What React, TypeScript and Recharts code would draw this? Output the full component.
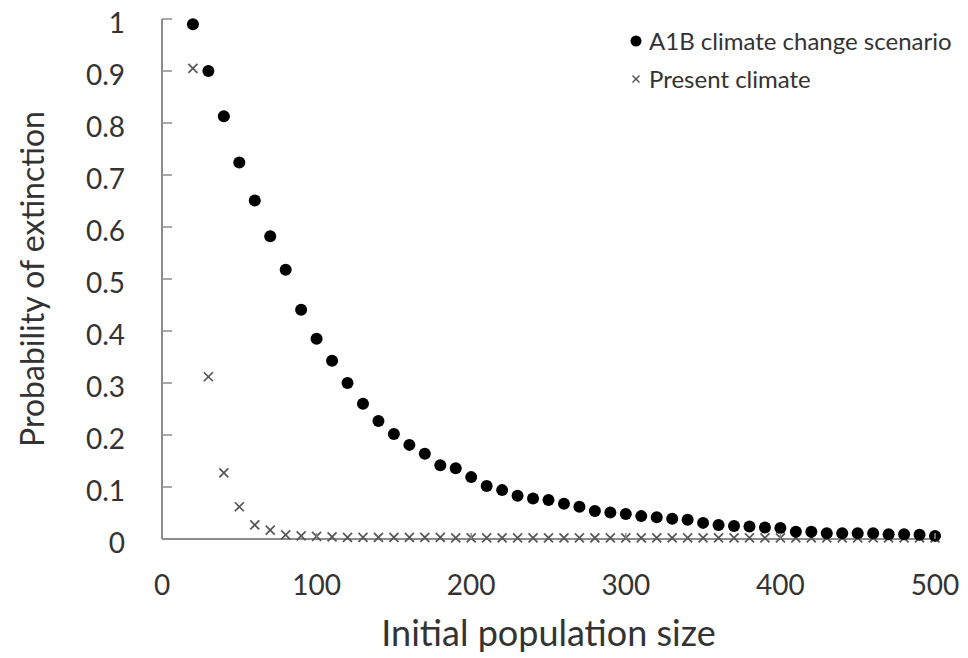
import React from 'react';
import { ScatterChart, Scatter, XAxis, YAxis, Legend, Label } from 'recharts';

const popSizes = [20, 30, 40, 50, 60, 70, 80, 90, 100, 110, 120, 130, 140, 150, 160, 170, 180, 190, 200, 210, 220, 230, 240, 250, 260, 270, 280, 290, 300, 310, 320, 330, 340, 350, 360, 370, 380, 390, 400, 410, 420, 430, 440, 450, 460, 470, 480, 490, 500];

const a1bProb = [0.99, 0.9, 0.813, 0.724, 0.651, 0.582, 0.518, 0.441, 0.385, 0.343, 0.3, 0.26, 0.227, 0.202, 0.181, 0.164, 0.142, 0.136, 0.119, 0.102, 0.094, 0.083, 0.078, 0.075, 0.068, 0.062, 0.054, 0.051, 0.048, 0.044, 0.042, 0.039, 0.037, 0.031, 0.027, 0.025, 0.024, 0.022, 0.021, 0.014, 0.014, 0.011, 0.011, 0.011, 0.011, 0.009, 0.009, 0.008, 0.006];

const presentProb = [0.905, 0.312, 0.127, 0.062, 0.027, 0.017, 0.008, 0.006, 0.005, 0.004, 0.003, 0.003, 0.003, 0.003, 0.003, 0.003, 0.003, 0.002, 0.002, 0.002, 0.002, 0.002, 0.002, 0.002, 0.002, 0.002, 0.002, 0.002, 0.002, 0.002, 0.002, 0.002, 0.002, 0.002, 0.002, 0.002, 0.002, 0.002, 0.002, 0.002, 0.002, 0.002, 0.002, 0.002, 0.002, 0.002, 0.002, 0.002, 0.002];

const xTicks = [0, 100, 200, 300, 400, 500];
const yTicks = [0, 0.1, 0.2, 0.3, 0.4, 0.5, 0.6, 0.7, 0.8, 0.9, 1];
const yTickLabels = ['0', '0.1', '0.2', '0.3', '0.4', '0.5', '0.6', '0.7', '0.8', '0.9', '1'];

const seriesNames = ['A1B climate change scenario', 'Present climate'];

const a1bData = popSizes.map((x, i) => ({ x, y: a1bProb[i] }));
const presentData = popSizes.map((x, i) => ({ x, y: presentProb[i] }));

const FONT = 'Lato, "Open Sans", sans-serif';
const AXIS_COLOR = '#8c8c8c';
const TEXT_COLOR = '#333333';

const XTick = (props: any) => {
  const { x, y, payload } = props;
  return (
    <g>
      {payload.value !== 0 && (
        <line x1={x} x2={x} y1={y} y2={y - 6} stroke={AXIS_COLOR} strokeWidth={1.5} />
      )}
      <text x={x} y={y + 45} textAnchor="middle" dominantBaseline="central" fontFamily={FONT} fontSize={28} fill={TEXT_COLOR}>
        {payload.value}
      </text>
    </g>
  );
};

const YTick = (props: any) => {
  const { x, y, payload } = props;
  const idx = yTicks.indexOf(payload.value);
  return (
    <g>
      <line x1={x} x2={x + 10} y1={y} y2={y} stroke={AXIS_COLOR} strokeWidth={1.5} />
      <text x={x - 37} y={y + 3} textAnchor="end" dominantBaseline="central" fontFamily={FONT} fontSize={28} fill={TEXT_COLOR}>
        {idx >= 0 ? yTickLabels[idx] : payload.value}
      </text>
    </g>
  );
};

const Dot = (props: any) => {
  const { cx, cy } = props;
  return <circle cx={cx} cy={cy} r={6} fill="#000" />;
};

const Cross = (props: any) => {
  const { cx, cy } = props;
  const s = 4.5;
  return (
    <g stroke="#555" strokeWidth={1.7}>
      <line x1={cx - s} y1={cy - s} x2={cx + s} y2={cy + s} />
      <line x1={cx - s} y1={cy + s} x2={cx + s} y2={cy - s} />
    </g>
  );
};

const LegendContent = () => (
  <div style={{ fontFamily: FONT, fontSize: 24, color: TEXT_COLOR, lineHeight: '38px', whiteSpace: 'nowrap' }}>
    <div style={{ display: 'flex', alignItems: 'center', height: 38 }}>
      <svg width={16} height={16} style={{ marginRight: 5 }}>
        <circle cx={8} cy={8} r={5.5} fill="#000" />
      </svg>
      <span>{seriesNames[0]}</span>
    </div>
    <div style={{ display: 'flex', alignItems: 'center', height: 38 }}>
      <svg width={16} height={16} style={{ marginRight: 5 }}>
        <g stroke="#555" strokeWidth={1.5}>
          <line x1={4.5} y1={4.5} x2={11.5} y2={11.5} />
          <line x1={4.5} y1={11.5} x2={11.5} y2={4.5} />
        </g>
      </svg>
      <span>{seriesNames[1]}</span>
    </div>
  </div>
);

export default function App() {
  return (
    <div style={{ marginTop: -8 }}>
      <ScatterChart width={960} height={658} margin={{ top: 19, right: 33, bottom: 0, left: 0 }}>
        <XAxis
          type="number"
          dataKey="x"
          domain={[0, 500]}
          ticks={xTicks}
          height={119}
          tickSize={0}
          tickMargin={0}
          tickLine={false}
          tick={<XTick />}
          axisLine={{ stroke: AXIS_COLOR, strokeWidth: 2 }}
          interval={0}
        >
          <Label
            content={(p: any) => {
              const vb = p.viewBox;
              return (
                <text x={vb.x + vb.width / 2} y={vb.y + 93} textAnchor="middle" dominantBaseline="central" fontFamily={FONT} fontSize={36} fill={TEXT_COLOR}>
                  Initial population size
                </text>
              );
            }}
          />
        </XAxis>
        <YAxis
          type="number"
          dataKey="y"
          domain={[0, 1]}
          ticks={yTicks}
          width={154}
          tickSize={0}
          tickMargin={0}
          tickLine={false}
          tick={<YTick />}
          axisLine={{ stroke: AXIS_COLOR, strokeWidth: 2 }}
          interval={0}
        >
          <Label
            content={(p: any) => {
              const vb = p.viewBox;
              const cx = vb.x + 23;
              const cy = vb.y + vb.height / 2;
              return (
                <text x={cx} y={cy} transform={`rotate(-90 ${cx} ${cy})`} textAnchor="middle" dominantBaseline="central" fontFamily={FONT} fontSize={32} fill={TEXT_COLOR}>
                  Probability of extinction
                </text>
              );
            }}
          />
        </YAxis>
        <Legend
          layout="vertical"
          align="center"
          verticalAlign="middle"
          content={<LegendContent />}
          wrapperStyle={{ top: 22, left: 620, width: 345 }}
        />
        <Scatter name={seriesNames[1]} data={presentData} shape={<Cross />} isAnimationActive={false} />
        <Scatter name={seriesNames[0]} data={a1bData} shape={<Dot />} isAnimationActive={false} />
      </ScatterChart>
    </div>
  );
}
